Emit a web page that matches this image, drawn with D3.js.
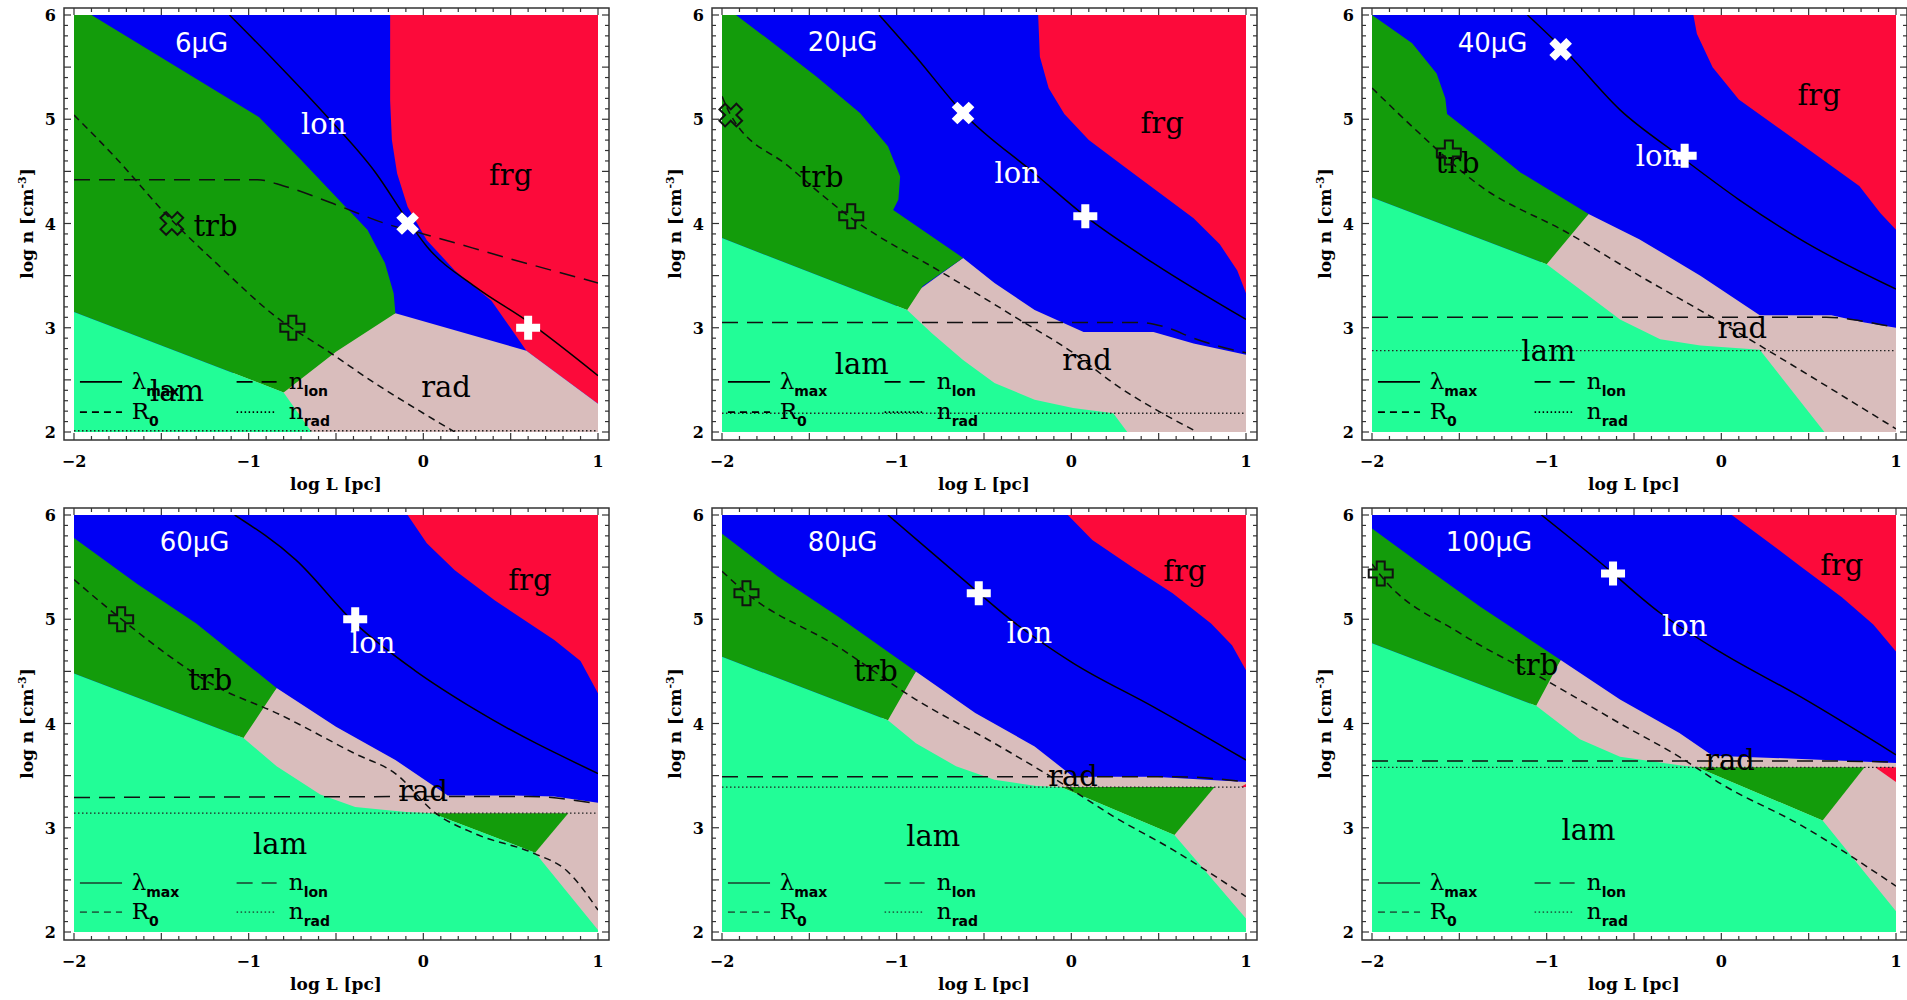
<!DOCTYPE html>
<html>
<head>
<meta charset="utf-8">
<script src="https://cdn.jsdelivr.net/npm/d3@7"></script>
<style>
  body { margin: 0; background: #fff; }
  svg { display: block; }
</style>
</head>
<body>
<div id="canvas"></div>
<script>
// ---- data (log L [pc], log n [cm^-3]) ----
var fields = ["6μG", "20μG", "40μG", "60μG", "80μG", "100μG"];
var xTicks = [-2, -1, 0, 1];
var yTicks = [2, 3, 4, 5, 6];

// red (frg) boundary, from the top edge down to the right edge
var redEdge = [
  [[-0.19,6],[-0.19,5.18],[-0.18,4.8],[-0.15,4.48],[-0.09,4.16],[0.02,3.84],[0.18,3.55],[0.39,3.26],[0.59,2.78],[1,2.27]],
  [[-0.19,6],[-0.18,5.6],[-0.13,5.3],[-0.04,5.05],[0.1,4.8],[0.3,4.55],[0.5,4.3],[0.7,4.05],[0.85,3.8],[0.95,3.55],[1,3.33]],
  [[-0.16,6],[-0.14,5.82],[-0.05,5.5],[0.1,5.19],[0.45,4.77],[0.79,4.36],[0.91,4.1],[1,3.94]],
  [[-0.09,6],[0.02,5.73],[0.18,5.47],[0.41,5.18],[0.75,4.8],[0.9,4.6],[1,4.29]],
  [[-0.02,6],[0.12,5.76],[0.35,5.5],[0.58,5.25],[0.8,4.96],[0.92,4.75],[1,4.51]],
  [[0.06,6],[0.23,5.79],[0.46,5.5],[0.69,5.21],[0.87,4.95],[1,4.69]]
];

// upper edge of the rad region
var radTop = [
  [[-0.16,3.14],[0.59,2.78],[1,2.27]],
  [[-0.62,3.67],[-0.44,3.43],[-0.21,3.17],[0.07,2.96],[0.47,2.96],[0.7,2.85],[1,2.74]],
  [[-0.76,4.09],[-0.47,3.85],[-0.12,3.5],[0.22,3.12],[0.63,3.12],[0.82,3.05],[1,3.0]],
  [[-0.84,4.34],[-0.5,3.97],[-0.16,3.65],[0.14,3.31],[0.52,3.31],[0.75,3.3],[1,3.24]],
  [[-0.89,4.5],[-0.55,4.1],[-0.21,3.78],[0.01,3.49],[0.47,3.49],[1,3.44]],
  [[-0.92,4.61],[-0.58,4.23],[-0.24,3.91],[-0.05,3.69],[0.46,3.66],[1,3.62]]
];

// trb (dark green) region outlines
var trbShape = [
  [[-2,6],[-1.9,6],[-0.94,5.02],[-0.7,4.61],[-0.48,4.22],[-0.32,3.94],[-0.22,3.62],[-0.17,3.33],[-0.16,3.14],[-0.5,2.77],[-0.8,2.38],[-2,3.15]],
  [[-2,6],[-1.92,6],[-1.73,5.76],[-1.46,5.41],[-1.21,5.06],[-1.05,4.74],[-0.98,4.45],[-0.99,4.23],[-1.02,4.13],[-0.62,3.67],[-0.85,3.4],[-0.94,3.17],[-2,3.86]],
  [[-2,6],[-1.77,5.73],[-1.63,5.44],[-1.58,5.2],[-1.57,5.05],[-1.38,4.8],[-1.15,4.49],[-0.76,4.09],[-1.0,3.61],[-2,4.25]],
  [[-2,5.78],[-1.64,5.34],[-1.3,4.96],[-0.84,4.34],[-1.03,3.86],[-2,4.48]],
  [[-2,5.82],[-1.68,5.41],[-1.34,5.03],[-0.89,4.5],[-1.05,4.03],[-2,4.64]],
  [[-2,5.87],[-1.73,5.54],[-1.38,5.12],[-0.92,4.61],[-1.06,4.17],[-2,4.77]]
];
var trbIsland = [null, null, null,
  [[0.05,3.14],[0.83,3.14],[0.64,2.76]],
  [[-0.06,3.39],[0.82,3.39],[0.59,2.93]],
  [[-0.14,3.58],[0.82,3.58],[0.58,3.07]]
];
var frgIsland = [null, null, null, null,
  [[0.97,3.39],[1,3.39],[1,3.42]],
  [[0.88,3.58],[1,3.58],[1,3.44]]
];

// lam (light green) region outlines
var lamShape = [
  [[-2,3.15],[-0.8,2.38],[-0.64,2],[-2,2]],
  [[-2,3.86],[-0.94,3.17],[-0.8,2.95],[-0.62,2.69],[-0.44,2.47],[-0.21,2.31],[0.01,2.23],[0.24,2.18],[0.32,2],[-2,2]],
  [[-2,4.25],[-1.0,3.61],[-0.81,3.37],[-0.58,3.08],[-0.35,2.89],[-0.12,2.83],[0.22,2.79],[0.59,2],[-2,2]],
  [[-2,4.48],[-1.03,3.86],[-0.84,3.59],[-0.59,3.32],[-0.39,3.2],[-0.1,3.15],[0.05,3.14],[0.64,2.76],[1,2.02],[1,2],[-2,2]],
  [[-2,4.64],[-1.05,4.03],[-0.89,3.81],[-0.66,3.59],[-0.44,3.46],[-0.2,3.4],[-0.06,3.39],[0.59,2.93],[1,2.13],[1,2],[-2,2]],
  [[-2,4.77],[-1.06,4.17],[-0.81,3.85],[-0.58,3.68],[-0.24,3.6],[-0.14,3.58],[0.58,3.07],[1,2.2],[1,2],[-2,2]]
];

// curves
var lambdaMax = [
  [[-1.11,6],[-0.84,5.54],[-0.57,5.06],[-0.27,4.48],[-0.09,4.03],[0.02,3.78],[0.3,3.39],[0.59,3.07],[1,2.54]],
  [[-1.1,6],[-0.89,5.6],[-0.62,5.06],[-0.21,4.48],[0.08,4.07],[0.47,3.62],[1,3.08]],
  [[-1.11,6],[-0.88,5.63],[-0.58,5.09],[-0.24,4.65],[0.1,4.23],[0.45,3.85],[1,3.37]],
  [[-1.08,6],[-0.73,5.57],[-0.39,4.96],[-0.05,4.51],[0.3,4.13],[1,3.52]],
  [[-1.05,6],[-0.66,5.44],[-0.32,4.96],[0.01,4.58],[0.47,4.16],[1,3.65]],
  [[-1.03,6],[-0.69,5.54],[-0.35,5.06],[0,4.68],[0.46,4.25],[1,3.7]]
];
var rZero = [
  [[-2,5.04],[-1.75,4.61],[-1.48,4.1],[-1.16,3.58],[-0.84,3.1],[-0.55,2.78],[-0.27,2.46],[0,2.18],[0.18,2.0]],
  [[-2,5.22],[-1.95,5.04],[-1.62,4.55],[-1.25,4.04],[-0.73,3.52],[-0.3,3.08],[0.01,2.76],[0.24,2.47],[0.72,2.0]],
  [[-2,5.3],[-1.77,4.93],[-1.38,4.36],[-0.88,3.91],[-0.47,3.5],[0,3.05],[0.22,2.83],[1,2.03]],
  [[-2,5.38],[-1.75,5.03],[-1.18,4.35],[-0.84,4.1],[-0.39,3.71],[-0.16,3.52],[0.07,3.14],[0.3,2.94],[0.64,2.75],[0.82,2.59],[1,2.21]],
  [[-2,5.46],[-1.86,5.25],[-1.34,4.74],[-0.89,4.23],[-0.44,3.81],[-0.03,3.4],[0.24,3.11],[0.58,2.79],[1,2.34]],
  [[-2,5.53],[-1.95,5.42],[-1.49,4.86],[-1,4.41],[-0.58,4.0],[-0.24,3.68],[0,3.42],[0.46,3.02],[1,2.44]]
];
var nIon = [
  [[-2,4.42],[-0.95,4.42],[-0.8,4.36],[-0.5,4.18],[-0.2,3.99],[0,3.9],[0.5,3.66],[1,3.43]],
  [[-2,3.05],[0.4,3.05],[0.55,3.0],[0.7,2.9],[0.85,2.82],[1,2.76]],
  [[-2,3.1],[0.6,3.1],[0.82,3.06],[1,3.0]],
  [[-2,3.29],[0.6,3.3],[1,3.23]],
  [[-2,3.49],[0.6,3.49],[1,3.44]],
  [[-2,3.64],[0.6,3.64],[1,3.63]]
];
var nRad = [2.012, 2.18, 2.78, 3.14, 3.39, 3.58];

// markers
var whiteX = [[-0.09,4.0], [-0.62,5.06], [-0.92,5.67], null, null, null];
var blackX = [[-1.44,4.0], [-1.95,5.04], null, null, null, null];
var whitePlus = [[0.6,3.0], [0.08,4.07], [-0.21,4.65], [-0.39,5.0], [-0.53,5.25], [-0.62,5.44]];
var blackPlus = [[-0.75,3.0], [-1.26,4.07], [-1.56,4.68], [-1.73,5.0], [-1.86,5.25], [-1.95,5.44]];

// region names
var fieldPos = [[-1.27,5.73], [-1.31,5.74], [-1.31,5.73], [-1.31,5.74], [-1.31,5.74], [-1.33,5.74]];
var lonPos = [[-0.57,4.95], [-0.31,4.48], [-0.36,4.65], [-0.29,4.77], [-0.24,4.87], [-0.21,4.94]];
var frgPos = [[0.5,4.47], [0.52,4.96], [0.56,5.23], [0.61,5.38], [0.65,5.46], [0.69,5.52]];
var trbPos = [[-1.19,3.98], [-1.43,4.45], [-1.51,4.58], [-1.22,4.42], [-1.12,4.5], [-1.06,4.56]];
var lamPos = [[-1.41,2.39], [-1.2,2.65], [-0.99,2.78], [-0.82,2.84], [-0.79,2.92], [-0.76,2.98]];
var radPos = [[0.13,2.43], [0.09,2.69], [0.12,3.0], [0.0,3.35], [0.01,3.5], [0.05,3.65]];

// ---- layout ----
var colLeft = [74, 722, 1372];
var rowTop = [15, 515];
var plotWidth = 524;
var plotHeight = 417;

var colors = {
  lon: "#0000f4",
  frg: "#fc0a3a",
  trb: "#139c0b",
  lam: "#22fd97",
  rad: "#d9bdbc"
};

var svg = d3.select("#canvas").append("svg")
  .attr("width", 1907)
  .attr("height", 1000);

// plus-shaped marker outline, centred at 0,0
PlusPoints = function(s, w) {
  return [[-w,-s],[w,-s],[w,-w],[s,-w],[s,w],[w,w],[w,s],[-w,s],[-w,w],[-s,w],[-s,-w],[-w,-w]];
}

DrawMarker = function(g, px, py, rotate, white) {
  var pts = PlusPoints(12, 4);
  g.append("polygon")
    .attr("points", pts.map(function(p) { return p.join(","); }).join(" "))
    .attr("transform", "translate(" + px + "," + py + ") rotate(" + rotate + ")")
    .attr("fill", white ? "#fff" : "none")
    .attr("stroke", white ? "none" : "#111")
    .attr("stroke-width", 2);
}

DrawPanel = function(i) {
  var left = colLeft[i % 3];
  var top = rowTop[Math.floor(i / 3)];
  var x = d3.scaleLinear().domain([-2, 1]).range([left, left + plotWidth]);
  var y = d3.scaleLinear().domain([2, 6]).range([top + plotHeight, top]);
  var shape = d3.line().x(function(d) { return x(d[0]); }).y(function(d) { return y(d[1]); });
  var curve = d3.line().x(function(d) { return x(d[0]); }).y(function(d) { return y(d[1]); })
    .curve(d3.curveMonotoneX);

  var g = svg.append("g");
  g.append("clipPath").attr("id", "clip" + i)
    .append("rect")
    .attr("x", x(-2)).attr("y", y(6))
    .attr("width", plotWidth).attr("height", plotHeight);

  // regions, back to front
  var regions = g.append("g").attr("clip-path", "url(#clip" + i + ")");
  regions.append("rect")
    .attr("x", x(-2)).attr("y", y(6))
    .attr("width", plotWidth).attr("height", plotHeight)
    .attr("fill", colors.lon);
  regions.append("path").attr("d", shape(redEdge[i].concat([[1, 6]]))).attr("fill", colors.frg);
  regions.append("path").attr("d", shape([[-2, 2]].concat(radTop[i], [[1, 2]]))).attr("fill", colors.rad);
  if (frgIsland[i]) regions.append("path").attr("d", shape(frgIsland[i])).attr("fill", colors.frg);
  regions.append("path").attr("d", shape(trbShape[i])).attr("fill", colors.trb);
  if (trbIsland[i]) regions.append("path").attr("d", shape(trbIsland[i])).attr("fill", colors.trb);
  regions.append("path").attr("d", shape(lamShape[i])).attr("fill", colors.lam);

  // curves
  regions.append("path").attr("d", curve(lambdaMax[i]))
    .attr("fill", "none").attr("stroke", "#000").attr("stroke-width", 1.5);
  regions.append("path").attr("d", curve(rZero[i]))
    .attr("fill", "none").attr("stroke", "#111").attr("stroke-width", 1.5)
    .attr("stroke-dasharray", "7,5");
  regions.append("path").attr("d", curve(nIon[i]))
    .attr("fill", "none").attr("stroke", "#111").attr("stroke-width", 1.5)
    .attr("stroke-dasharray", "16,9");
  regions.append("line")
    .attr("x1", x(-2)).attr("x2", x(1))
    .attr("y1", y(nRad[i])).attr("y2", y(nRad[i]))
    .attr("stroke", "#222").attr("stroke-width", 1.3)
    .attr("stroke-dasharray", "1.5,2.5");

  // region names
  var serif = "'DejaVu Serif', 'Liberation Serif', serif";
  var names = [
    {t: "lon", p: lonPos[i], c: "#fff"},
    {t: "frg", p: frgPos[i], c: "#000"},
    {t: "trb", p: trbPos[i], c: "#000"},
    {t: "lam", p: lamPos[i], c: "#000"},
    {t: "rad", p: radPos[i], c: "#000"}
  ];
  names.forEach(function(n) {
    g.append("text")
      .attr("x", x(n.p[0])).attr("y", y(n.p[1]))
      .attr("text-anchor", "middle").attr("dominant-baseline", "central")
      .attr("font-family", serif).attr("font-size", 29)
      .attr("fill", n.c).text(n.t);
  });
  g.append("text")
    .attr("x", x(fieldPos[i][0])).attr("y", y(fieldPos[i][1]))
    .attr("text-anchor", "middle").attr("dominant-baseline", "central")
    .attr("font-family", "'DejaVu Sans', sans-serif").attr("font-size", 26)
    .attr("fill", "#fff").text(fields[i]);

  // legend
  var legendInk = i < 3 ? "#000" : "#1d6e48";
  var row1 = i < 3 ? 2.48 : 2.47;
  var row2 = 2.19;
  var entries = [
    {x0: -1.966, x1: -1.725, tx: -1.67, ty: row1, dash: null, main: "λ", sub: "max"},
    {x0: -1.966, x1: -1.725, tx: -1.67, ty: row2, dash: "7,5", main: "R", sub: "0"},
    {x0: -1.069, x1: -0.84, tx: -0.77, ty: row1, dash: "16,9", main: "n", sub: "lon"},
    {x0: -1.069, x1: -0.84, tx: -0.77, ty: row2, dash: "1.5,2.5", main: "n", sub: "rad"}
  ];
  entries.forEach(function(e) {
    g.append("line")
      .attr("x1", x(e.x0)).attr("x2", x(e.x1))
      .attr("y1", y(e.ty)).attr("y2", y(e.ty))
      .attr("stroke", legendInk).attr("stroke-width", 1.8)
      .attr("stroke-dasharray", e.dash);
    var t = g.append("text")
      .attr("x", x(e.tx)).attr("y", y(e.ty) + 7)
      .attr("font-family", serif).attr("font-size", 23).attr("fill", "#000");
    t.append("tspan").text(e.main);
    t.append("tspan").attr("dy", 7)
      .attr("font-family", "'DejaVu Sans', sans-serif").attr("font-weight", "bold")
      .attr("font-size", 14).text(e.sub);
  });

  // markers
  if (blackX[i]) DrawMarker(g, x(blackX[i][0]), y(blackX[i][1]), 45, false);
  if (whiteX[i]) DrawMarker(g, x(whiteX[i][0]), y(whiteX[i][1]), 45, true);
  DrawMarker(g, x(blackPlus[i][0]), y(blackPlus[i][1]), 0, false);
  DrawMarker(g, x(whitePlus[i][0]), y(whitePlus[i][1]), 0, true);

  // frame sits a little outside the image, ticks point inward
  var fl = x(-2) - 10, fr = x(1) + 11, ft = y(6) - 7, fb = y(2) + 8;
  g.append("rect")
    .attr("x", fl).attr("y", ft).attr("width", fr - fl).attr("height", fb - ft)
    .attr("fill", "none").attr("stroke", "#333").attr("stroke-width", 1.5);

  var ticks = g.append("g").attr("stroke", "#333").attr("stroke-width", 1.2);
  d3.range(-20, 11).forEach(function(k) {
    var v = k / 10;
    var len = (k % 5 === 0) ? 7 : 4;
    ticks.append("line").attr("x1", x(v)).attr("x2", x(v)).attr("y1", fb).attr("y2", fb - len);
    ticks.append("line").attr("x1", x(v)).attr("x2", x(v)).attr("y1", ft).attr("y2", ft + len);
  });
  d3.range(20, 61).forEach(function(k) {
    var v = k / 10;
    var len = (k % 5 === 0) ? 7 : 4;
    ticks.append("line").attr("x1", fl).attr("x2", fl + len).attr("y1", y(v)).attr("y2", y(v));
    ticks.append("line").attr("x1", fr).attr("x2", fr - len).attr("y1", y(v)).attr("y2", y(v));
  });

  // tick labels
  var bold = "'DejaVu Serif', serif";
  xTicks.forEach(function(v) {
    g.append("text")
      .attr("x", x(v)).attr("y", fb + 27)
      .attr("text-anchor", "middle")
      .attr("font-family", bold).attr("font-weight", "bold").attr("font-size", 16)
      .text(v < 0 ? "\u2212" + Math.abs(v) : v);
  });
  yTicks.forEach(function(v) {
    g.append("text")
      .attr("x", fl - 8).attr("y", y(v) + 6)
      .attr("text-anchor", "end")
      .attr("font-family", bold).attr("font-weight", "bold").attr("font-size", 16)
      .text(v);
  });

  // axis titles
  g.append("text")
    .attr("x", x(-0.5)).attr("y", fb + 50)
    .attr("text-anchor", "middle")
    .attr("font-family", bold).attr("font-weight", "bold").attr("font-size", 17)
    .text("log L [pc]");
  var yt = g.append("text")
    .attr("transform", "translate(" + (x(-2) - 41) + "," + y(4) + ") rotate(-90)")
    .attr("text-anchor", "middle")
    .attr("font-family", bold).attr("font-weight", "bold").attr("font-size", 17);
  yt.append("tspan").text("log n [cm");
  yt.append("tspan").attr("dy", -7).attr("font-size", 11).text("-3");
  yt.append("tspan").attr("dy", 7).text("]");
}

for (var i = 0; i < fields.length; i++) {
  DrawPanel(i);
}
</script>
</body>
</html>
